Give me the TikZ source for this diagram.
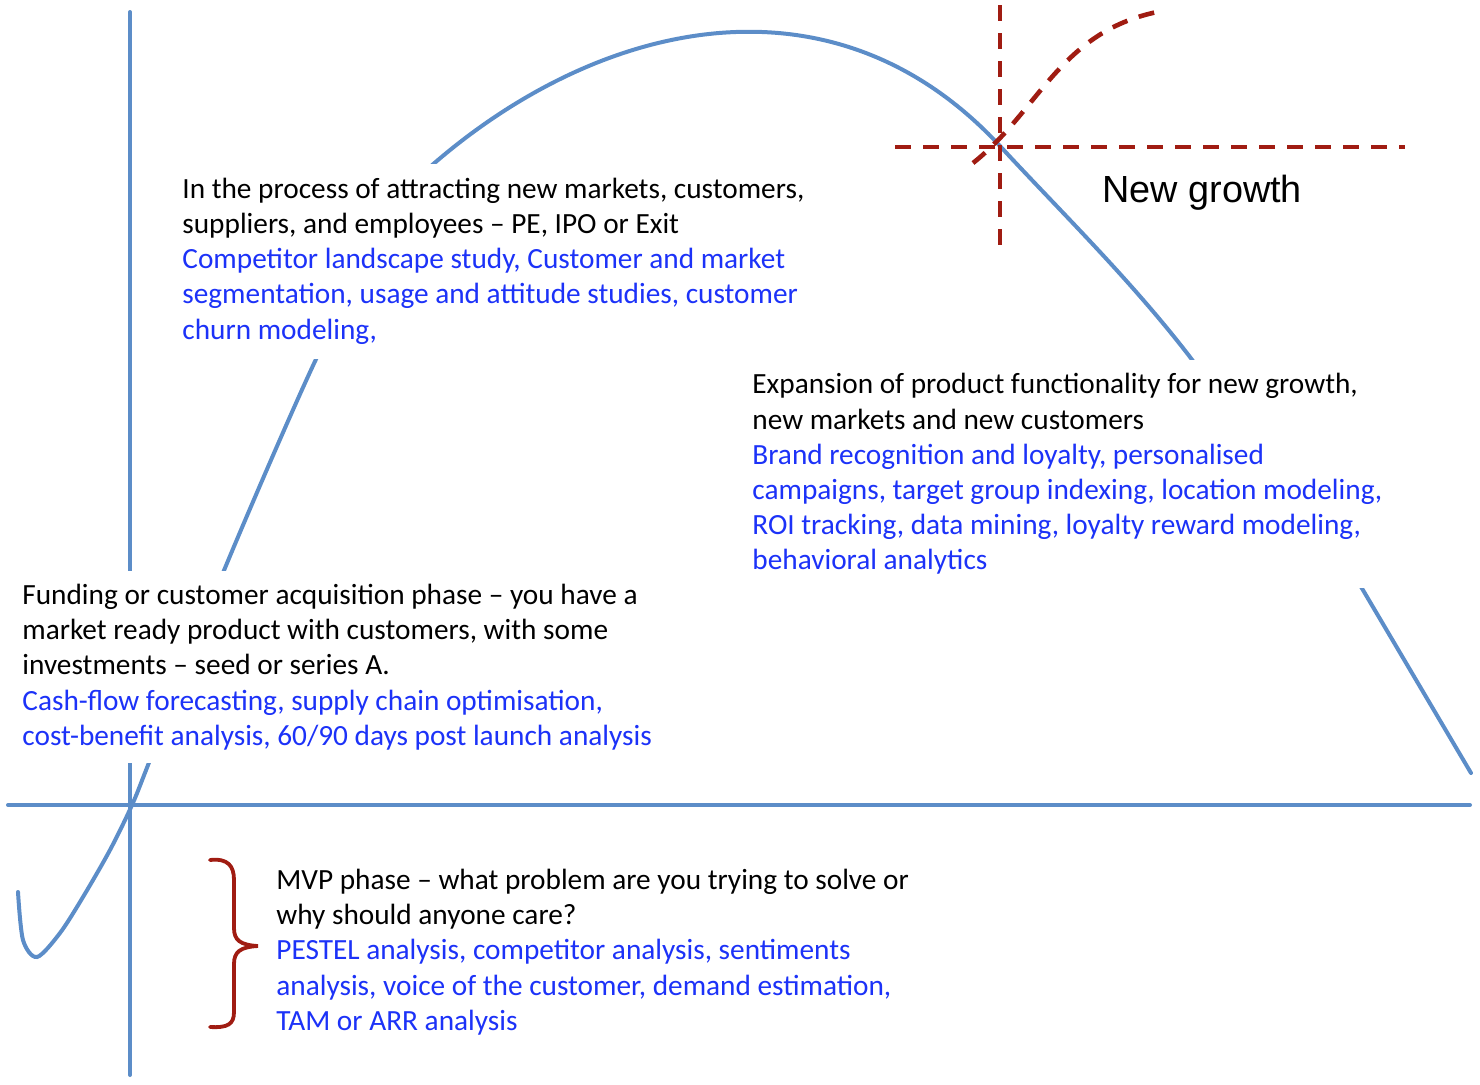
\documentclass[tikz,border=0pt]{standalone}
\usepackage{fontspec}
\setmainfont{Carlito}
\newfontfamily\arialfont{Liberation Sans}
\definecolor{curveblue}{RGB}{92,141,200}
\definecolor{darkred}{RGB}{160,28,18}
\definecolor{methblue}{RGB}{28,50,248}
\tikzset{
  curveline/.style={draw=curveblue, line width=2pt, line cap=round},
  redline/.style={draw=darkred, line width=2.3pt, dash pattern=on 8pt off 6pt},
  phasebox/.style={fill=white, inner xsep=6pt, inner ysep=0pt, align=left, anchor=west,
    font=\fontsize{14.65}{17.6}\selectfont},
  bracestyle/.style={draw=darkred, line width=1.9pt, line cap=round}
}
\begin{document}
\begin{tikzpicture}[x=0.5pt,y=-0.5pt]
\useasboundingbox (0,0) rectangle (1480,1084);
% axes
\draw[curveline] (130,12) -- (130,1075);
\draw[curveline] (8,805) -- (1470,805);
% lifecycle curve: rising part
\draw[curveline] plot[smooth, tension=0.5] coordinates {
 (18,892) (23,940) (37,957) (60,933) (83,897) (110,850) (132,805) (150,760)
 (225,568) (318,355) (375,255) (420,190)};
% lifecycle curve: peak and decline
\draw[curveline] (424,172) -- (438,160) .. controls (604,19) and (834,-33) .. (1000,146)
  .. controls (1060,211) and (1130,279) .. (1190,357)
  -- (1360,585) -- (1471,773);
% red dashed markers
\coordinate (vtop) at (1000,5);
\coordinate (vbot) at (1000,247);
\coordinate (hl) at (895,147);
\coordinate (hr) at (1405,147);
\coordinate (sstart) at (973,163);
\coordinate (send) at (1162,11);
\draw[redline] (vtop) -- (vbot);
\draw[redline] (hl) -- (hr);
\draw[redline] (sstart) .. controls (1040,110) and (1060,30) .. (send);
% texts
\node[phasebox, minimum height=97.5pt] (growth) at (170,261) {%
In the process of attracting new markets, customers,\\
suppliers, and employees -- PE, IPO or Exit\\
\color{methblue}Competitor landscape study, Customer and market\\
\color{methblue}segmentation, usage and attitude studies, customer\\
\color{methblue}churn modeling,};
\node[phasebox, minimum height=114pt] (expansion) at (740,474) {%
Expansion of product functionality for new growth,\\
new markets and new customers\\
\color{methblue}Brand recognition and loyalty, personalised\\
\color{methblue}campaigns, target group indexing, location modeling,\\
\color{methblue}ROI tracking, data mining, loyalty reward modeling,\\
\color{methblue}behavioral analytics};
\node[phasebox, minimum height=96pt] (funding) at (10,667) {%
Funding or customer acquisition phase -- you have a\\
market ready product with customers, with some\\
investments -- seed or series A.\\
\color{methblue}Cash-flow forecasting, supply chain optimisation,\\
\color{methblue}cost-benefit analysis, 60/90 days post launch analysis};
\node[phasebox] (mvp) at (264,952) {%
MVP phase -- what problem are you trying to solve or\\
why should anyone care?\\
\color{methblue}PESTEL analysis, competitor analysis, sentiments\\
\color{methblue}analysis, voice of the customer, demand estimation,\\
\color{methblue}TAM or ARR analysis};
\node[anchor=west, inner sep=0pt, font=\arialfont\fontsize{18.9}{22}\selectfont] (newgrowth) at (1102,193) {New growth};
% brace
\draw[bracestyle] (210,860) .. controls (228,858) and (234,866) .. (234,880)
  -- (234,928) .. controls (234,940) and (240,945) .. (258,946)
  .. controls (240,947) and (234,952) .. (234,964)
  -- (234,1012) .. controls (234,1024) and (228,1028) .. (210,1027);
\end{tikzpicture}
\end{document}
